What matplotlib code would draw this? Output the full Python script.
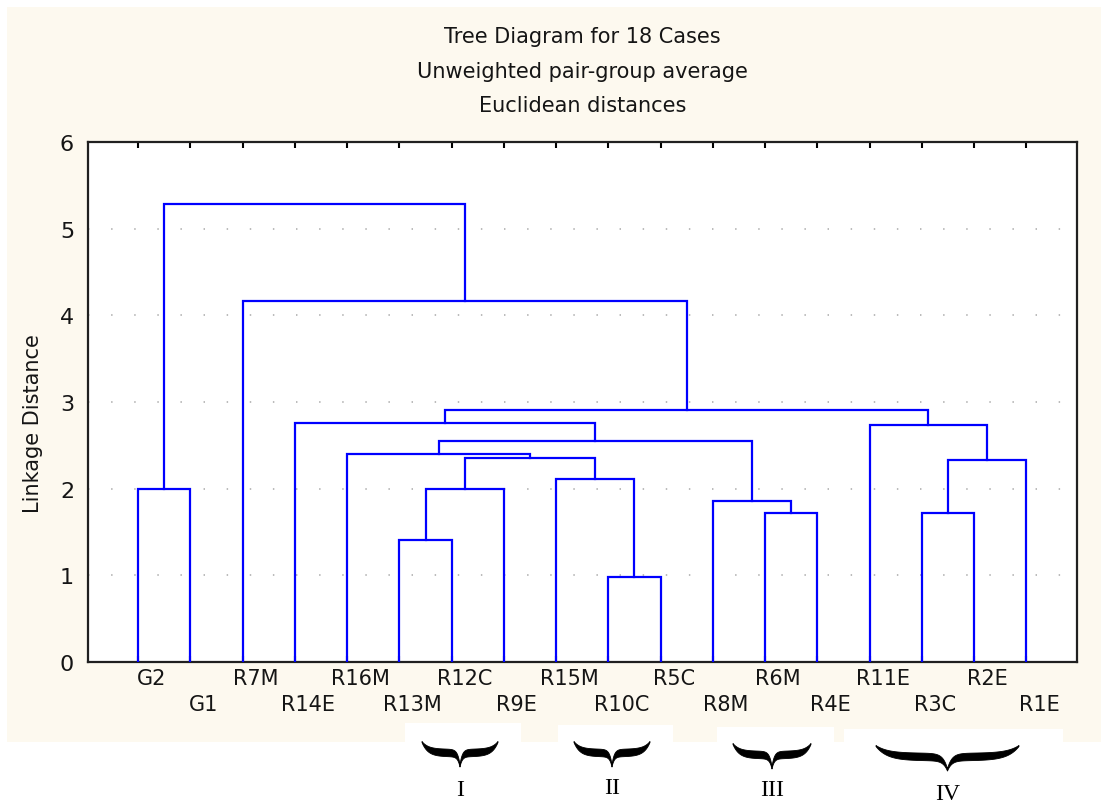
import numpy as np
import matplotlib.pyplot as plt
from matplotlib.patches import Rectangle, Polygon

# leaf order as shown on the tree
labels = ["G2", "G1", "R7M", "R14E", "R16M", "R13M", "R12C", "R9E", "R15M",
          "R10C", "R5C", "R8M", "R6M", "R4E", "R11E", "R3C", "R2E", "R1E"]

# joins: (left cluster, right cluster, linkage distance); new clusters get ids 18, 19, ...
merge_left = [9, 5, 12, 15, 11, 0, 19, 8, 21, 24, 4, 28, 14, 3, 31, 2, 23]
merge_right = [10, 6, 13, 16, 20, 1, 7, 18, 17, 25, 27, 22, 26, 29, 30, 32, 33]
merge_height = [0.98, 1.41, 1.72, 1.72, 1.86, 2.00, 2.00, 2.11, 2.33, 2.35,
                2.40, 2.555, 2.73, 2.76, 2.91, 4.16, 5.28]

group_names = ["I", "II", "III", "IV"]

title_lines = ["Tree Diagram for 18 Cases", "Unweighted pair-group average",
               "Euclidean distances"]

BLUE = "#0000FF"
CREAM = "#FDF9EF"
TEXT = "#151515"
FONT = "DejaVu Sans"

fig = plt.figure(figsize=(11.01, 8.04), dpi=100)
fig.patch.set_facecolor("white")

# pixel-space overlay for background panels and braces
W, H = 1101, 804
bg = fig.add_axes([0, 0, 1, 1], zorder=0)
bg.set_xlim(0, W)
bg.set_ylim(H, 0)
bg.axis("off")
bg.add_patch(Rectangle((7, 8), W - 7, 735, facecolor=CREAM, edgecolor="none"))
for x0, x1, y0 in [(405, 521, 724), (558, 673, 726), (717, 834, 728), (844, 1063, 730)]:
    bg.add_patch(Rectangle((x0, y0), x1 - x0, H - y0, facecolor="white", edgecolor="none"))


def brace(ax, x0, x1, ytop, wing, drop, thick):
    # horizontal curly brace, wings up, tip pointing down
    half = (x1 - x0) / 2
    u = np.linspace(0, 1, 300)
    c = ytop + wing * (1 - np.exp(-u / 0.16)) + drop * np.exp(-(1 - u) / 0.06)
    h = thick * (1 - np.exp(-u / 0.15)) * (1 - 0.8 * np.exp(-(1 - u) / 0.07)) + 0.5
    xl = x0 + u * half
    xr = x1 - u * half
    outline = np.vstack([
        np.column_stack([xl, c - h]),
        np.column_stack([xr[::-1], (c - h)[::-1]]),
        np.column_stack([xr, c + h]),
        np.column_stack([xl[::-1], (c + h)[::-1]]),
    ])
    ax.add_patch(Polygon(outline, closed=True, facecolor="black", edgecolor="black", lw=0.6))


brace_spans = [(422, 498, 743), (574, 650, 743), (733, 811, 745), (876, 1019, 747)]
roman_y = [791, 789, 791, 795]
for (x0, x1, yt), ry, name in zip(brace_spans, roman_y, group_names):
    brace(bg, x0, x1, yt, 11, 13, 3.3)
    bg.text((x0 + x1) / 2, ry, name, ha="center", va="center",
            fontsize=17, family="Liberation Serif", color="black")

# main axes: left 88, right 1077, top 143, bottom 663 (pixels)
ax = fig.add_axes([88 / W, 1 - 663 / H, (1077 - 88) / W, (663 - 143) / H], zorder=1)
ax.set_facecolor("white")

n = len(labels)
xpos = {i: i + 1.0 for i in range(n)}
ypos = {i: 0.0 for i in range(n)}
for k, (a, b, hgt) in enumerate(zip(merge_left, merge_right, merge_height)):
    ax.plot([xpos[a], xpos[a], xpos[b], xpos[b]], [ypos[a], hgt, hgt, ypos[b]],
            color=BLUE, lw=1.6, solid_joinstyle="miter", zorder=3)
    xpos[n + k] = (xpos[a] + xpos[b]) / 2
    ypos[n + k] = hgt

ax.set_xlim(0.04, 18.97)
ax.set_ylim(0, 6)
ax.set_yticks(range(7))
ax.set_yticklabels([str(v) for v in range(7)], fontsize=16, family=FONT, color=TEXT)
ax.tick_params(axis="y", length=0, pad=10)

ax.set_xticks(np.arange(1, n + 1))
ax.set_xticklabels([])
ax.tick_params(axis="x", direction="in", length=4, width=1.5, top=True, bottom=True)

for v in range(1, 6):
    ax.axhline(v, color="#B5B5B5", lw=1.3, linestyle=(0, (0.8, 12)), zorder=1)

for s in ax.spines.values():
    s.set_linewidth(1.6)
    s.set_color("#202020")

for i, lab in enumerate(labels):
    ax.text(i + 1 + 0.25, -0.19 if i % 2 == 0 else -0.48, lab, ha="center", va="center",
            fontsize=15, family=FONT, color=TEXT, clip_on=False)

for j, line in enumerate(title_lines):
    fig.text(582.5 / W, 1 - (37 + 34.5 * j) / H, line, ha="center", va="center",
             fontsize=15, family=FONT, color=TEXT)

fig.text(33 / W, 1 - 424 / H, "Linkage Distance", rotation=90, ha="center", va="center",
         fontsize=15, family=FONT, color=TEXT)

fig.savefig("out.png", dpi=100)
